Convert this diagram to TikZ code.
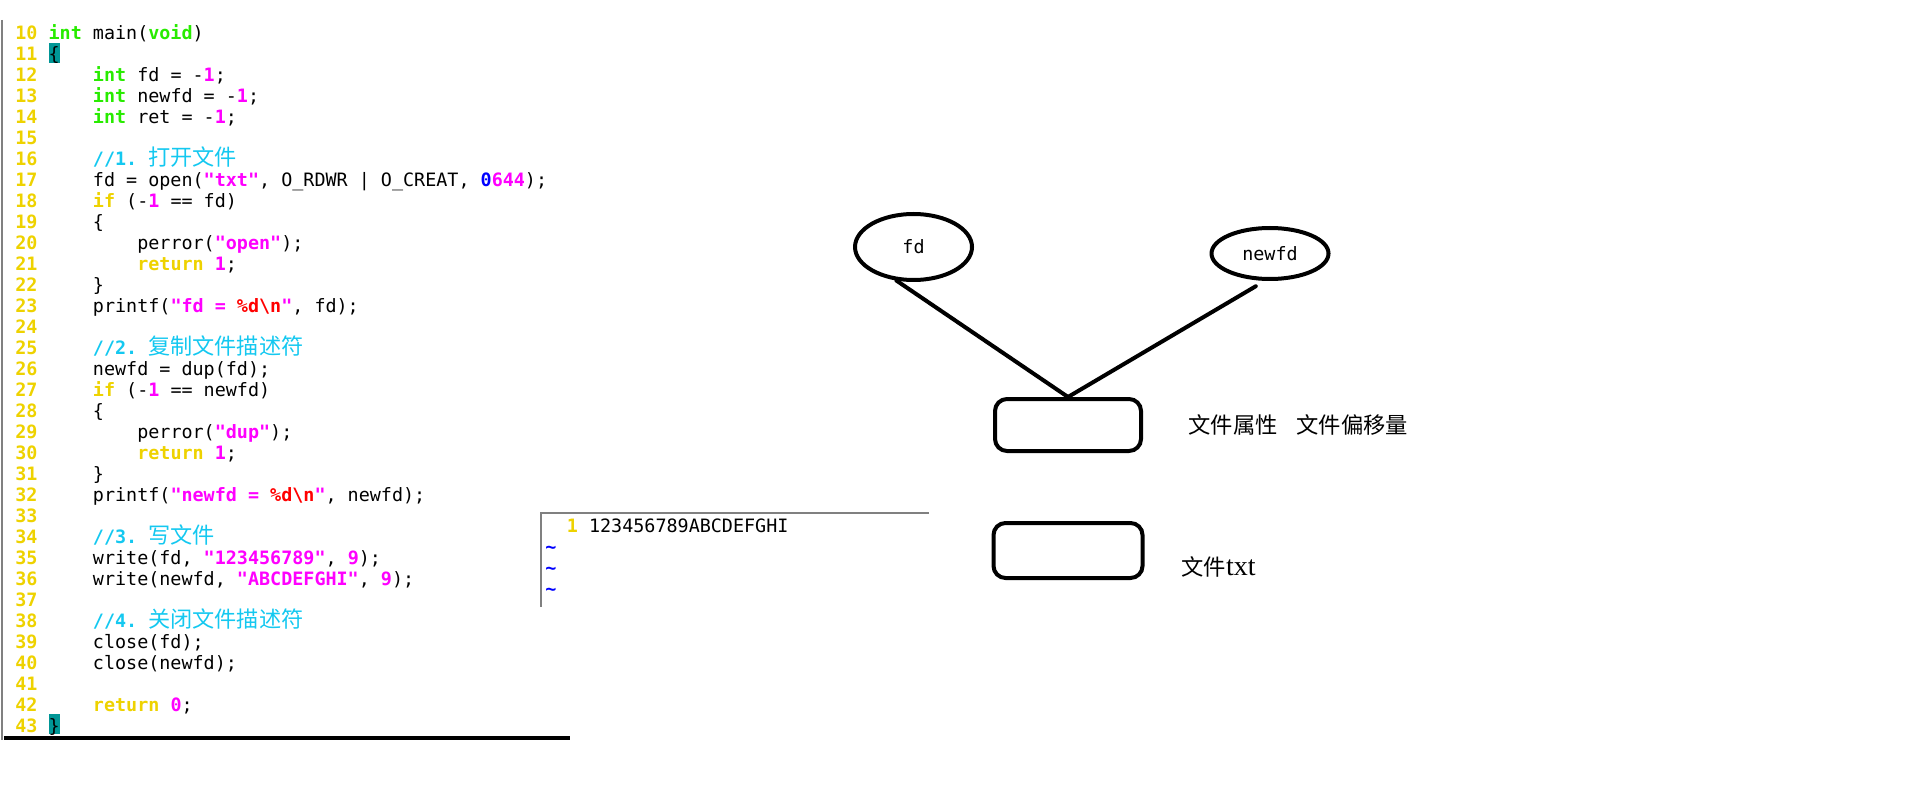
\documentclass[tikz,border=0pt]{standalone}
\usepackage{fontspec}
\usepackage{xcolor}
\usepackage{tikz}
\usetikzlibrary{shapes,arrows,positioning,fit,calc}

\setmonofont{DejaVu Sans Mono}
\newfontfamily\cjk{Noto Sans CJK SC}
\newfontfamily\serif{Liberation Serif}

\definecolor{lnyellow}{RGB}{238,210,0}
\definecolor{kwgreen}{RGB}{40,235,0}
\definecolor{litmagenta}{RGB}{255,0,255}
\definecolor{fmtred}{RGB}{255,0,0}
\definecolor{octblue}{RGB}{0,0,255}
\definecolor{cmtcyan}{RGB}{20,200,240}
\definecolor{braceteal}{RGB}{0,150,150}

\newcommand{\codesize}{\ttfamily\fontsize{9.2pt}{10.5pt}\selectfont}
\newcommand{\kwd}[1]{\textcolor{kwgreen}{\textbf{#1}}}
\newcommand{\ctl}[1]{\textcolor{lnyellow}{\textbf{#1}}}
\newcommand{\lit}[1]{\textcolor{litmagenta}{\textbf{#1}}}
\newcommand{\fmt}[1]{\textcolor{fmtred}{\textbf{#1}}}
\newcommand{\cmt}[2]{\textcolor{cmtcyan}{\textbf{#1} {\cjk\fontsize{11.08pt}{11pt}\selectfont #2}}}

\begin{document}
\begin{tikzpicture}[x=0.5pt, y=-0.5pt,
    code/.style={anchor=base west, inner sep=0pt, font=\codesize},
    lnum/.style={code, text=lnyellow, font=\codesize\bfseries},
    brace/.style={code, fill=braceteal, text height=8.85pt, text depth=1.15pt, minimum width=5.54pt},
    fdnode/.style={ellipse, draw, line width=2pt, minimum width=58.5pt, minimum height=33pt, inner sep=0pt, font=\codesize},
    filebox/.style={rectangle, draw, line width=2pt, rounded corners=6pt, minimum width=73pt, minimum height=26pt, inner sep=0pt},
    note/.style={inner sep=0pt, font=\cjk\fontsize{11.15pt}{13pt}\selectfont},
    link/.style={line width=2pt, line cap=round}]

    \useasboundingbox (0,0) rectangle (1914,796);

    % Editor frame
    \draw[gray, line width=0.75pt] (2,20) -- (2,740);
    \draw[line width=2pt] (4,738) -- (570,738);

    % Source listing
    \begin{scope}[shift={(15,-169.7)}, x=5.54pt, y=-10.485pt]
    \foreach \n in {10,...,43}
        \node[lnum] (n\n) at (0,\n) {\n};
    \node[code] (c10) at (3,10) {\kwd{int} main(\kwd{void})};
    \node[brace] (c11) at (3,11) {\{};
    \node[code] (c12) at (7,12) {\kwd{int} fd = -\lit{1};};
    \node[code] (c13) at (7,13) {\kwd{int} newfd = -\lit{1};};
    \node[code] (c14) at (7,14) {\kwd{int} ret = -\lit{1};};
    \node[code] (c16) at (7,16) {\cmt{//1.}{打开文件}};
    \node[code] (c17) at (7,17) {fd = open(\lit{"txt"}, O\_RDWR | O\_CREAT, \textcolor{octblue}{\textbf{0}}\lit{644});};
    \node[code] (c18) at (7,18) {\ctl{if} (-\lit{1} == fd)};
    \node[code] (c19) at (7,19) {\{};
    \node[code] (c20) at (11,20) {perror(\lit{"open"});};
    \node[code] (c21) at (11,21) {\ctl{return} \lit{1};};
    \node[code] (c22) at (7,22) {\}};
    \node[code] (c23) at (7,23) {printf(\lit{"fd = }\fmt{\%d\textbackslash n}\lit{"}, fd);};
    \node[code] (c25) at (7,25) {\cmt{//2.}{复制文件描述符}};
    \node[code] (c26) at (7,26) {newfd = dup(fd);};
    \node[code] (c27) at (7,27) {\ctl{if} (-\lit{1} == newfd)};
    \node[code] (c28) at (7,28) {\{};
    \node[code] (c29) at (11,29) {perror(\lit{"dup"});};
    \node[code] (c30) at (11,30) {\ctl{return} \lit{1};};
    \node[code] (c31) at (7,31) {\}};
    \node[code] (c32) at (7,32) {printf(\lit{"newfd = }\fmt{\%d\textbackslash n}\lit{"}, newfd);};
    \node[code] (c34) at (7,34) {\cmt{//3.}{写文件}};
    \node[code] (c35) at (7,35) {write(fd, \lit{"123456789"}, \lit{9});};
    \node[code] (c36) at (7,36) {write(newfd, \lit{"ABCDEFGHI"}, \lit{9});};
    \node[code] (c38) at (7,38) {\cmt{//4.}{关闭文件描述符}};
    \node[code] (c39) at (7,39) {close(fd);};
    \node[code] (c40) at (7,40) {close(newfd);};
    \node[code] (c42) at (7,42) {\ctl{return} \lit{0};};
    \node[brace] (c43) at (3,43) {\}};
    \end{scope}

    % File contents
    \draw[gray, line width=1pt] (929,513) -- (541,513) -- (541,607);
    \node[code] (txt1) at (566.5,532) {\ctl{1} 123456789ABCDEFGHI};
    \foreach \k in {1,2,3}
        \node[code, text=octblue, font=\codesize\bfseries] (tilde\k) at (545,{532+21*\k}) {\textasciitilde};

    % Descriptors
    \node[fdnode] (fd) at (913.5,247) {fd};
    \node[fdnode, minimum height=25.5pt] (newfd) at (1270,253.5) {newfd};

    % Kernel side
    \node[filebox] (attr) at (1068,425) {};
    \node[filebox, below=34pt of attr, minimum width=74.5pt, minimum height=27.5pt] (file) {};

    % Arrows
    \draw[link] (fd.243) -- (attr.north);
    \draw[link] ([yshift=-3pt]newfd.242) -- (attr.north);

    % Labels
    \node[note, right=22.5pt of attr] (attrnote) {文件属性\hspace{9.5pt}文件偏移量};
    \node[note, right=18.25pt of file, yshift=-8.25pt] (filenote) {文件{\serif\fontsize{14pt}{14pt}\selectfont txt}};

\end{tikzpicture}
\end{document}
